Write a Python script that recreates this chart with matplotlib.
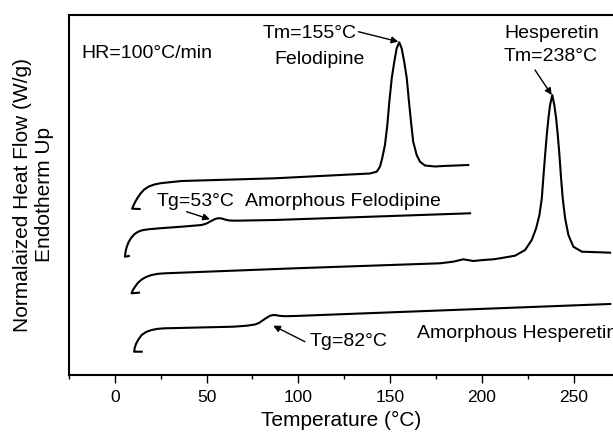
import matplotlib
matplotlib.use("Agg")
import matplotlib.pyplot as plt
from matplotlib.ticker import MultipleLocator

plt.rcParams['font.family'] = ['Liberation Sans', 'DejaVu Sans']

# DSC traces, temperature (C) and heat flow (arbitrary units, curves offset)
felo_T = [13.5, 9.4, 10.0, 10.9, 12.3, 14.0, 16.0, 18.5, 21.5, 25.0, 30.0, 36.4, 87.2,
          133.6, 139.0, 142.7, 144.5, 145.7, 147.2, 148.5, 149.6, 150.9, 152.3, 153.6,
          155.0, 156.3, 157.7, 159.1, 160.3, 161.4, 162.6, 164.5, 166.3, 169.0, 174.5,
          179.0, 192.6]
felo_hf = [166, 166.3, 169, 172.5, 177, 181.5, 185.5, 188.5, 190.5, 191.8, 192.8, 194, 196.7,
           201, 201.5, 203.3, 208.3, 216.7, 230, 250, 273.3, 296.7, 313.3, 326.7,
           332.7, 326.7, 313.3, 296.7, 273.3, 253.3, 233.3, 220, 213.3, 209.5, 208.5,
           209, 210]

am_felo_T = [7.6, 5.5, 5.8, 6.4, 7.5, 9.1, 10.8, 12.7, 15.0, 18.2, 25.0, 36.4, 47.3, 50.0,
             51.8, 53.5, 55.0, 56.5, 58.0, 60.0, 62.0, 65.0, 87.2, 193.6]
am_felo_hf = [119, 118.3, 123, 127.7, 133, 137.7, 141, 143.3, 144.8, 145.7, 146.8, 148.3,
              150, 151.5, 153.3, 155, 156.2, 156.8, 156.6, 155.5, 154.6, 154.3, 155, 161.7]

hesp_T = [13.1, 9.1, 9.7, 10.9, 12.5, 14.6, 17.0, 20.0, 23.5, 27.3, 98.1, 177.2, 184.4,
          189.9, 195.4, 200.8, 206.3, 209.9, 218.1, 223.6, 227.2, 229.6, 231.4, 232.7,
          233.5, 234.5, 235.4, 236.3, 237.2, 238.4, 239.5, 240.5, 241.4, 242.3, 243.2,
          244.1, 245.4, 247.2, 249.9, 254.5, 264.5, 269.9]
hesp_hf = [82.3, 81.7, 84.5, 88, 92, 95.5, 98, 100, 101.2, 101.7, 106.7, 111.7, 113.3,
           115.7, 114, 115, 115.7, 116.7, 119.3, 125, 135, 146.7, 160, 176.7,
           196.7, 220, 240, 256.7, 270, 280, 270, 256.7, 240, 220, 196.7,
           176.7, 156.7, 140, 128.3, 123.3, 122.7, 122.3]

am_hesp_T = [14.6, 10.5, 10.8, 11.5, 12.8, 14.6, 17.0, 20.0, 23.5, 27.3, 64.5, 72.0, 76.3,
             78.5, 80.5, 82.5, 84.5, 86.3, 88.0, 90.0, 93.0, 98.1, 270.0]
am_hesp_hf = [23.3, 23.3, 27, 31, 35.5, 40, 43, 45, 46.2, 46.7, 48.3, 49.3, 50.5,
              52, 54.5, 57, 59.2, 60, 59.8, 59.1, 58.8, 59, 71]

fig = plt.figure(figsize=(6.13, 4.34), dpi=100)
ax = fig.add_axes([69/613, 59/434, 544/613, 360/434])

for T, hf in [(felo_T, felo_hf), (am_felo_T, am_felo_hf),
              (hesp_T, hesp_hf), (am_hesp_T, am_hesp_hf)]:
    ax.plot(T, hf, color='black', lw=1.5, solid_joinstyle='round')

ax.set_xlim(-25, 271.5)
ax.set_ylim(0, 360)
ax.xaxis.set_major_locator(MultipleLocator(50))
ax.xaxis.set_minor_locator(MultipleLocator(25))
ax.set_yticks([])
ax.tick_params(axis='x', which='major', direction='out', length=6, width=1,
               labelsize=12.5, pad=5)
ax.tick_params(axis='x', which='minor', direction='out', length=3, width=1)
ax.spines['right'].set_visible(False)
for s in ['left', 'bottom', 'top']:
    ax.spines[s].set_linewidth(1.5)

ax.set_xlabel('Temperature (°C)', fontsize=15, labelpad=4)
ax.set_ylabel('Normalaized Heat Flow (W/g)\nEndotherm Up', fontsize=15)
ax.yaxis.set_label_coords(-0.028, 0.5)

fs = 14
ax.text(-18.0, 316.7, 'HR=100°C/min', fontsize=fs, va='baseline')
ax.text(80.7, 336.7, 'Tm=155°C', fontsize=fs, va='baseline')
ax.text(111.8, 310.7, 'Felodipine', fontsize=fs, va='baseline', ha='center')
ax.text(238.0, 337.3, 'Hesperetin', fontsize=fs, va='baseline', ha='center')
ax.text(237.7, 314, 'Tm=238°C', fontsize=fs, va='baseline', ha='center')
ax.text(22.9, 169.5, 'Tg=53°C', fontsize=fs, va='baseline')
ax.text(70.9, 169.5, 'Amorphous Felodipine', fontsize=fs, va='baseline')
ax.text(106.3, 29, 'Tg=82°C', fontsize=fs, va='baseline')
# this label runs past the right edge in the original figure as well
ax.text(164.7, 37.3, 'Amorphous Hesperetin', fontsize=fs, va='baseline', clip_on=False)

arrow = dict(arrowstyle='-|>', color='black', lw=1, mutation_scale=10, shrinkA=0, shrinkB=0)
ax.annotate('', xy=(154.5, 333.3), xytext=(132.7, 343.3), arrowprops=arrow)
ax.annotate('', xy=(238.1, 280), xytext=(229.0, 305), arrowprops=arrow)
ax.annotate('', xy=(51.8, 155.7), xytext=(39.1, 163.3), arrowprops=arrow)
ax.annotate('', xy=(86.3, 49.3), xytext=(103.6, 33.3), arrowprops=arrow)

fig.savefig('out.png', dpi=100)
